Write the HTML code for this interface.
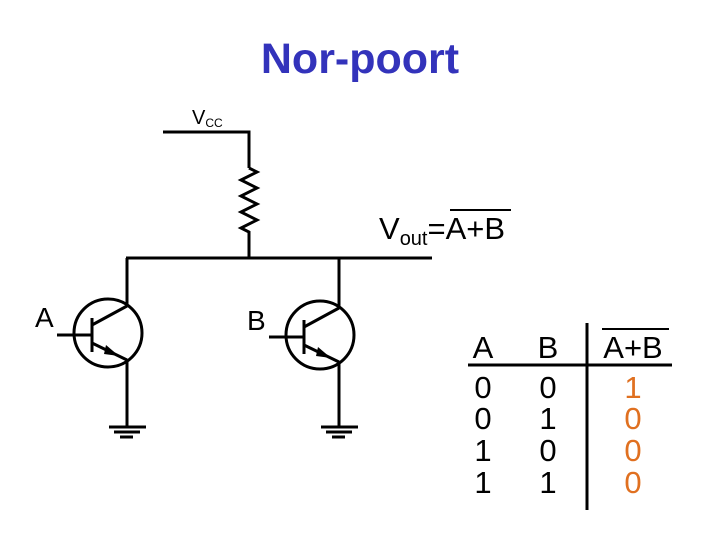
<!DOCTYPE html>
<html><head><meta charset="utf-8"><style>
html,body{margin:0;padding:0;background:#fff;}
svg{display:block;}
text{font-family:"Liberation Sans",Arial,sans-serif;}
</style></head><body>
<svg width="720" height="540" viewBox="0 0 720 540" xmlns="http://www.w3.org/2000/svg">
<text x="360" y="73" text-anchor="middle" font-size="43" font-weight="bold" fill="#3333bb">Nor-poort</text>
<g stroke="#000" stroke-width="3" fill="none">
<polyline points="163,132 249,132 249,168"/>
<polyline points="249,168 257,172 241,180 257,188 241,196 257,204 241,212 257,220 241,228 249,232 249,258"/>
<line x1="126" y1="258" x2="432" y2="258"/>
<line x1="127" y1="258" x2="127" y2="306"/>
<line x1="339" y1="258" x2="339" y2="308"/>
</g>
<g stroke="#000" stroke-width="3" fill="none">
<circle cx="108" cy="333" r="34"/>
<line x1="92" y1="318" x2="92" y2="352"/>
<line x1="57" y1="335" x2="92" y2="335"/>
<line x1="92" y1="325" x2="127" y2="306"/>
<line x1="92" y1="343" x2="127" y2="360"/>
<line x1="127" y1="360" x2="127" y2="427"/>
<line x1="109" y1="427" x2="146" y2="427"/>
<line x1="114" y1="432" x2="140" y2="432"/>
<line x1="120" y1="437" x2="133" y2="437"/>
</g>
<polygon points="119,356 106,345 104,354" fill="#000"/>
<g transform="translate(212,2)">
<g stroke="#000" stroke-width="3" fill="none">
<circle cx="108" cy="333" r="34"/>
<line x1="92" y1="318" x2="92" y2="352"/>
<line x1="57" y1="335" x2="92" y2="335"/>
<line x1="92" y1="325" x2="127" y2="306"/>
<line x1="92" y1="343" x2="127" y2="360"/>
<line x1="127" y1="360" x2="127" y2="425"/>
<line x1="109" y1="425" x2="146" y2="425"/>
<line x1="114" y1="430" x2="140" y2="430"/>
<line x1="120" y1="435" x2="133" y2="435"/>
</g>
<polygon points="119,356 106,345 104,354" fill="#000"/>
</g>
<text x="35" y="327" font-size="28">A</text>
<text x="247" y="330" font-size="28">B</text>
<text x="192" y="124" font-size="20">V<tspan font-size="12" dy="3">CC</tspan></text>
<text x="379" y="239" font-size="31">V<tspan font-size="20" dy="6">out</tspan><tspan dy="-6">=A+B</tspan></text>
<line x1="450" y1="210" x2="511" y2="210" stroke="#000" stroke-width="2"/>
<g font-size="31" text-anchor="middle">
<text x="483" y="358">A</text><text x="548" y="358">B</text><text x="633" y="358">A+B</text>
<text x="483" y="398">0</text><text x="548" y="398">0</text>
<text x="483" y="429">0</text><text x="548" y="429">1</text>
<text x="483" y="461">1</text><text x="548" y="461">0</text>
<text x="483" y="493">1</text><text x="548" y="493">1</text>
<g fill="#e07020"><text x="633" y="398">1</text><text x="633" y="429">0</text><text x="633" y="461">0</text><text x="633" y="493">0</text></g>
</g>
<line x1="602" y1="329" x2="669" y2="329" stroke="#000" stroke-width="2"/>
<line x1="468" y1="365" x2="672" y2="365" stroke="#000" stroke-width="3"/>
<line x1="587" y1="323" x2="587" y2="510" stroke="#000" stroke-width="3"/>
</svg>
</body></html>
